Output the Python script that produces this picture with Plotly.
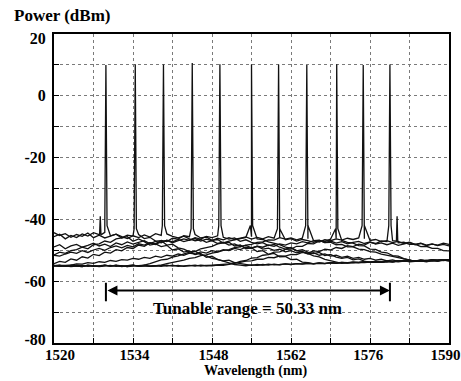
import plotly.graph_objects as go

# ---------------- data ----------------
WAVELENGTH_GRID = [
    1520, 1521, 1522, 1523, 1524, 1525, 1526, 1527, 1528, 1529,
    1530, 1531, 1532, 1533, 1534, 1535, 1536, 1537, 1538, 1539,
    1540, 1541, 1542, 1543, 1544, 1545, 1546, 1547, 1548, 1549,
    1550, 1551, 1552, 1553, 1554, 1555, 1556, 1557, 1558, 1559,
    1560, 1561, 1562, 1563, 1564, 1565, 1566, 1567, 1568, 1569,
    1570, 1571, 1572, 1573, 1574, 1575, 1576, 1577, 1578, 1579,
    1580, 1581, 1582, 1583, 1584, 1585, 1586, 1587, 1588, 1589,
    1590]

# ASE background (dBm) of each of the 11 spectra, sampled on WAVELENGTH_GRID
FLOOR_DBM = [
    [-45.6, -44.8, -46.3, -45.2, -45.9, -44.7, -45.4, -44.3, -44.9, -44.2,
     -45.3, -44.8, -46.0, -45.6, -47.1, -46.3, -47.2, -48.3, -47.9, -48.8,
     -48.4, -49.9, -49.5, -50.6, -50.2, -51.4, -51.0, -52.3, -51.9, -53.0,
     -53.4, -53.2, -54.0, -54.3, -54.6, -54.9, -54.6, -54.8, -54.5, -54.7,
     -54.6, -54.4, -54.6, -54.3, -54.4, -54.2, -54.3, -54.1, -54.2, -54.0,
     -54.1, -53.9, -54.0, -53.8, -53.9, -53.7, -53.8, -53.6, -53.7, -53.5,
     -53.6, -53.4, -53.5, -53.3, -53.4, -53.2, -53.3, -53.1, -53.2, -53.0,
     -53.1],
    [-51.5, -50.6, -51.0, -50.1, -49.8, -49.0, -49.5, -48.2, -47.9, -47.0,
     -47.4, -46.3, -46.0, -45.1, -45.4, -44.9, -46.2, -45.8, -47.0, -46.9,
     -48.3, -48.0, -49.2, -49.6, -50.5, -50.3, -51.4, -51.8, -52.6, -52.9,
     -53.5, -54.0, -54.6, -54.8, -55.0, -54.7, -54.9, -54.6, -54.8, -54.5,
     -54.7, -54.4, -54.6, -54.3, -54.5, -54.2, -54.4, -54.1, -54.3, -54.0,
     -54.2, -53.9, -54.1, -53.8, -54.0, -53.7, -53.9, -53.6, -53.8, -53.5,
     -53.7, -53.4, -53.6, -53.3, -53.5, -53.2, -53.4, -53.1, -53.3, -53.0,
     -53.2],
    [-44.3, -45.2, -44.6, -45.8, -44.9, -45.5, -44.4, -45.9, -45.1, -46.0,
     -45.4, -44.8, -45.6, -46.2, -45.3, -45.9, -45.0, -45.7, -44.6, -45.2,
     -44.7, -45.5, -46.0, -45.4, -46.3, -46.9, -46.5, -47.4, -46.9, -47.8,
     -47.4, -48.3, -47.9, -48.8, -48.4, -49.2, -48.7, -49.6, -49.3, -50.0,
     -49.6, -50.5, -50.1, -50.8, -50.4, -51.2, -50.8, -51.6, -51.2, -51.9,
     -51.6, -52.3, -51.9, -52.6, -52.3, -52.9, -52.6, -53.2, -52.9, -53.4,
     -53.1, -53.6, -53.3, -53.7, -53.5, -53.4, -53.6, -53.3, -53.5, -53.2,
     -53.4],
    [-54.3, -53.6, -53.9, -52.8, -53.2, -52.1, -52.5, -51.3, -51.7, -50.6,
     -50.9, -49.8, -50.2, -49.1, -49.4, -48.3, -48.7, -47.6, -47.9, -46.8,
     -47.2, -46.1, -46.4, -45.3, -45.6, -44.9, -46.0, -45.7, -46.8, -46.5,
     -47.7, -47.4, -48.6, -48.3, -49.5, -49.2, -50.4, -50.1, -51.3, -51.0,
     -52.1, -52.0, -53.0, -52.9, -53.8, -54.0, -54.4, -54.2, -54.3, -54.1,
     -54.2, -54.0, -54.1, -53.9, -54.0, -53.8, -53.9, -53.7, -53.8, -53.6,
     -53.7, -53.5, -53.6, -53.4, -53.5, -53.3, -53.4, -53.2, -53.3, -53.1,
     -53.2],
    [-51.6, -51.9, -51.2, -50.6, -51.0, -50.1, -50.7, -49.9, -49.4, -50.0,
     -49.1, -48.6, -49.2, -48.4, -48.9, -47.9, -48.3, -47.5, -48.1, -47.2,
     -46.8, -47.6, -46.9, -46.3, -46.8, -45.9, -46.4, -45.5, -45.9, -45.3,
     -45.8, -46.4, -46.0, -47.1, -46.6, -47.4, -47.9, -47.5, -48.5, -48.1,
     -49.0, -49.6, -49.1, -50.2, -49.8, -50.6, -51.1, -50.7, -51.7, -51.3,
     -52.2, -52.6, -52.3, -53.1, -52.8, -53.5, -53.9, -53.6, -53.8, -53.5,
     -53.7, -53.4, -53.6, -53.3, -53.5, -53.2, -53.4, -53.1, -53.3, -53.0,
     -53.2],
    [-54.9, -55.2, -55.0, -55.3, -55.1, -54.9, -55.2, -55.0, -55.3, -55.1,
     -54.9, -55.2, -55.0, -55.3, -55.1, -54.9, -54.8, -54.3, -53.6, -53.1,
     -52.9, -52.2, -51.8, -51.3, -50.6, -50.4, -49.5, -49.1, -48.7, -47.9,
     -47.6, -47.0, -46.6, -46.1, -45.8, -45.6, -46.3, -46.5, -47.3, -47.8,
     -48.2, -49.0, -49.3, -50.1, -50.6, -51.0, -51.8, -52.1, -52.9, -53.4,
     -53.7, -54.2, -54.0, -54.1, -53.9, -54.0, -53.8, -53.9, -53.7, -53.8,
     -53.6, -53.7, -53.5, -53.6, -53.4, -53.5, -53.3, -53.4, -53.2, -53.3,
     -53.1],
    [-48.9, -48.2, -49.5, -48.6, -48.1, -49.0, -48.4, -47.7, -48.6, -48.0,
     -48.8, -47.6, -48.2, -47.3, -48.0, -47.5, -46.9, -47.8, -47.1, -47.6,
     -46.7, -47.3, -46.5, -47.2, -46.8, -46.2, -47.0, -46.4, -46.9, -46.1,
     -46.6, -45.9, -46.5, -46.0, -45.7, -46.4, -45.8, -46.3, -45.6, -46.1,
     -45.9, -46.6, -46.2, -47.0, -46.5, -46.9, -47.4, -46.8, -47.5, -47.0,
     -47.7, -47.2, -47.9, -47.4, -47.1, -47.8, -47.3, -48.0, -47.6, -48.2,
     -47.7, -48.4, -47.9, -47.5, -48.2, -47.8, -48.5, -48.0, -48.3, -47.7,
     -48.1],
    [-55.1, -54.9, -55.2, -55.0, -54.8, -55.1, -54.9, -55.2, -55.0, -54.8,
     -55.1, -54.9, -55.2, -55.0, -54.8, -55.1, -54.9, -55.2, -55.0, -54.8,
     -54.3, -54.0, -53.5, -53.2, -52.6, -52.4, -51.7, -51.5, -50.9, -50.6,
     -50.0, -49.8, -49.1, -48.9, -48.3, -48.1, -47.4, -47.3, -46.6, -46.7,
     -45.9, -46.4, -46.0, -46.6, -46.1, -46.3, -46.9, -46.7, -47.5, -47.4,
     -48.2, -48.1, -48.9, -48.9, -49.6, -49.8, -50.4, -50.6, -51.2, -51.5,
     -52.0, -52.4, -52.8, -53.2, -53.6, -53.4, -53.7, -53.3, -53.5, -53.2,
     -53.4],
    [-54.9, -55.2, -55.0, -54.8, -55.1, -55.3, -54.9, -55.0, -55.2, -54.8,
     -55.1, -54.9, -55.3, -55.0, -54.8, -55.2, -55.1, -54.9, -55.0, -55.2,
     -54.8, -55.1, -54.9, -55.2, -55.0, -54.8, -55.1, -54.9, -55.0, -54.8,
     -54.9, -54.6, -54.2, -53.6, -53.3, -52.5, -52.4, -51.6, -51.4, -50.6,
     -50.5, -49.7, -49.6, -48.7, -48.7, -47.8, -47.9, -47.0, -47.2, -46.4,
     -46.2, -46.8, -47.4, -47.7, -48.5, -48.6, -49.6, -49.7, -50.6, -50.8,
     -51.7, -51.9, -52.7, -53.1, -53.6, -53.4, -53.5, -53.2, -53.4, -53.1,
     -53.3],
    [-55.0, -54.9, -54.7, -54.8, -54.4, -54.5, -54.0, -54.2, -53.7, -53.9,
     -53.3, -53.6, -53.0, -53.2, -52.6, -52.9, -52.3, -52.6, -51.9, -52.3,
     -51.6, -51.9, -51.2, -51.6, -50.9, -51.2, -50.5, -50.9, -50.1, -50.5,
     -49.8, -50.1, -49.4, -49.8, -49.0, -49.4, -48.7, -49.0, -48.3, -48.7,
     -47.9, -48.3, -47.6, -47.9, -47.2, -47.6, -46.9, -47.3, -46.6, -46.9,
     -46.3, -46.7, -46.1, -46.5, -46.0, -46.3, -46.8, -46.5, -47.2, -46.9,
     -47.5, -47.1, -47.8, -47.4, -48.1, -47.7, -48.3, -47.9, -48.5, -48.1,
     -48.6],
    [-55.0, -54.8, -55.2, -54.9, -55.1, -55.3, -54.8, -55.0, -55.2, -54.9,
     -55.1, -54.8, -55.0, -55.3, -54.9, -55.1, -54.8, -55.2, -55.0, -54.9,
     -55.1, -54.8, -55.2, -55.0, -54.9, -55.1, -54.8, -55.0, -54.9, -54.7,
     -54.5, -54.4, -54.0, -53.9, -53.5, -53.4, -52.9, -52.9, -52.3, -52.4,
     -51.8, -51.9, -51.3, -51.4, -50.7, -50.9, -50.2, -50.4, -49.6, -49.9,
     -49.1, -49.4, -48.5, -48.8, -48.0, -48.3, -47.4, -47.8, -47.0, -47.2,
     -46.9, -47.6, -47.4, -48.1, -48.0, -48.8, -48.7, -49.4, -49.4, -50.1,
     -50.2],
]

# lasing peaks
PEAK_WL = [1529.20, 1534.40, 1539.40, 1544.50, 1549.40, 1555.00,
           1559.80, 1564.80, 1570.10, 1574.80, 1579.53]
PEAK_DBM = [10.0, 10.2, 10.1, 10.6, 10.2, 10.1, 10.1, 10.0, 10.2, 10.0, 10.1]
PEAK_SKIRT_DBM = [-42, -43, -42, -43, -42, -42, -43, -42, -43, -42, -42]

# weak side modes (trace index, wavelength, level)
SIDE_TRACE = [0, 10]
SIDE_WL = [1528.2, 1580.8]
SIDE_DBM = [-39.0, -39.0]
SIDE_SKIRT_DBM = [-45.0, -47.0]

X_TICKS = [1520, 1534, 1548, 1562, 1576, 1590]
Y_TICKS = [-80, -60, -40, -20, 0, 20]
Y_TICK_TEXT = ["-80", "-60", "-40", "-20", "0", "20"]

RANGE_TEXT = "Tunable range = 50.33 nm"
ARROW_DBM = -63.0
BAR_DBM = [-60.5, -66.5]
RANGE_TEXT_DBM = -68.7

# ---------------- styling ----------------
FONT = "Liberation Serif"
PEAK_HALF = 0.2
SIDE_HALF = 0.12
# labels at the ends of the axes sit slightly inward, as in the original figure
X_LABEL_NUDGE = [1.06, 0.27, 0.27, 0.0, -0.3, -0.62]
Y_LABEL_NUDGE = [1.3, 0.0, 0.0, 0.0, 0.0, -1.3]

fig = go.Figure()
for k, floor in enumerate(FLOOR_DBM):
    pts = list(zip(WAVELENGTH_GRID, floor))
    pw = PEAK_WL[k]
    pts += [(pw - PEAK_HALF, PEAK_SKIRT_DBM[k]), (pw, PEAK_DBM[k]),
            (pw + PEAK_HALF, PEAK_SKIRT_DBM[k])]
    for t, sw, sp, ss in zip(SIDE_TRACE, SIDE_WL, SIDE_DBM, SIDE_SKIRT_DBM):
        if t == k:
            pts += [(sw - SIDE_HALF, ss), (sw, sp), (sw + SIDE_HALF, ss)]
    pts.sort(key=lambda p: p[0])
    fig.add_trace(go.Scatter(
        x=[p[0] for p in pts], y=[p[1] for p in pts],
        mode="lines", line=dict(color="#111111", width=1.3),
        showlegend=False, hoverinfo="skip"))

grid_style = dict(showgrid=True, gridcolor="#7a7a7a", griddash="dot", gridwidth=1)
axis_common = dict(
    showline=True, linewidth=2, linecolor="black", mirror=True,
    ticks="inside", ticklen=0, showgrid=False, zeroline=False,
    automargin=False)

fig.update_xaxes(range=[1520, 1590],
                 tickvals=[v + d for v, d in zip(X_TICKS, X_LABEL_NUDGE)],
                 ticktext=[str(v) for v in X_TICKS],
                 ticklabelstandoff=-3,
                 tickfont=dict(family=FONT, size=15, color="black", weight="bold"),
                 minor=dict(dtick=7, tick0=1520, ticks="inside", ticklen=5,
                            tickcolor="black", **grid_style),
                 **axis_common)
fig.update_yaxes(range=[-80, 20],
                 tickvals=[v + d for v, d in zip(Y_TICKS, Y_LABEL_NUDGE)],
                 ticktext=Y_TICK_TEXT,
                 ticklabelstandoff=3,
                 tickfont=dict(family=FONT, size=16, color="black", weight="bold"),
                 minor=dict(dtick=10, tick0=-80, ticks="inside", ticklen=5,
                            tickcolor="black", **grid_style),
                 **axis_common)

x0, x1 = PEAK_WL[0], PEAK_WL[-1]
for xb in (x0, x1):
    fig.add_shape(type="line", x0=xb, x1=xb, y0=BAR_DBM[0], y1=BAR_DBM[1],
                  xref="x", yref="y", line=dict(color="black", width=2))

fig.add_annotation(x=x1, y=ARROW_DBM, ax=x0, ay=ARROW_DBM, xref="x", yref="y",
                   axref="x", ayref="y", text="", showarrow=True,
                   arrowhead=2, arrowside="end+start", arrowwidth=2,
                   arrowsize=1, arrowcolor="black")
fig.add_annotation(x=(x0 + x1) / 2, y=RANGE_TEXT_DBM, xref="x", yref="y",
                   text="<b>" + RANGE_TEXT + "</b>", showarrow=False,
                   font=dict(family=FONT, size=17, color="black"))
fig.add_annotation(x=-0.106, y=1.061, xref="paper", yref="paper",
                   xanchor="left", yanchor="middle", showarrow=False,
                   text="<b>Power (dBm)</b>",
                   font=dict(family=FONT, size=17, color="black"))
fig.add_annotation(x=0.509, y=-0.1230, xref="paper", yref="paper",
                   xanchor="center", yanchor="bottom", showarrow=False,
                   text="<b>Wavelength (nm)</b>",
                   font=dict(family=FONT, size=14, color="black"))

fig.update_layout(width=461, height=381,
                  margin=dict(l=54, r=12, t=34, b=38),
                  paper_bgcolor="white", plot_bgcolor="white")

fig.write_html("out.html")
